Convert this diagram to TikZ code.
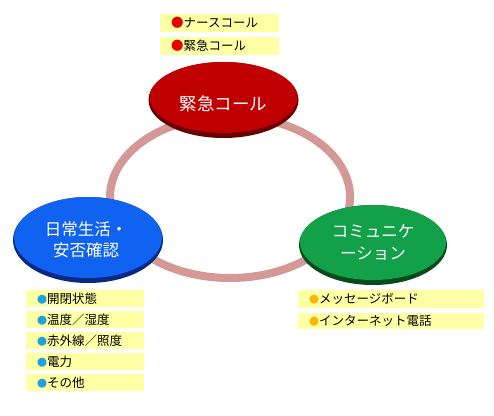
\documentclass[tikz,border=0pt]{standalone}
\usepackage{fontspec}
\newfontfamily\cjk{Noto Sans CJK JP}
\usetikzlibrary{shapes.geometric}
\definecolor{boxyellow}{RGB}{255,255,165}
\definecolor{ringpink}{RGB}{212,152,150}
\definecolor{redbase}{RGB}{192,0,0}
\definecolor{reddark}{RGB}{105,0,0}
\definecolor{bluebase}{RGB}{16,98,240}
\definecolor{bluedark}{RGB}{8,40,130}
\definecolor{greenbase}{RGB}{18,160,72}
\definecolor{greendark}{RGB}{5,75,30}
\definecolor{bulred}{RGB}{230,0,0}
\definecolor{bulblue}{RGB}{30,160,225}
\definecolor{bulgold}{RGB}{245,185,0}
\newcommand{\bul}[2]{{\fontsize{#2}{#2}\selectfont\color{#1}●}}
\begin{document}
\begin{tikzpicture}[x=1pt,y=-1pt,
  itembox/.style={fill=boxyellow, inner xsep=11pt, inner ysep=0pt,
    minimum height=18pt, anchor=north west, align=left,
    font=\cjk\fontsize{12.5}{15}\selectfont},
  hub/.style={ellipse, inner sep=0pt, text=white, align=center},
  ring/.style={draw=ringpink, line width=8pt}]
\useasboundingbox (0,0) rectangle (494,415);
\fill[white] (0,0) rectangle (494,415);

% ring
\draw[ring] (230,197) ellipse (120 and 81);

% red hub
\fill[reddark] (223.5,100) ellipse (75 and 38);
\node[hub, fill=redbase, minimum width=148pt, minimum height=71pt,
  label={[text=white, font=\cjk\fontsize{17.5}{20}\selectfont, yshift=-6pt]center:緊急コール}] (call) at (223.5,97.5) {};

% blue hub
\fill[bluedark] (88,240) ellipse (75 and 43);
\node[hub, fill=bluebase, minimum width=148pt, minimum height=81pt,
  label={[text=white, align=center, font=\cjk\fontsize{16.5}{21}\selectfont, yshift=-2.5pt, xshift=-2pt]center:日常生活・\\安否確認}] (life) at (88,237.5) {};

% green hub
\fill[greendark] (373,245) ellipse (74 and 40);
\node[hub, fill=greenbase, minimum width=146pt, minimum height=75pt,
  label={[text=white, align=center, font=\cjk\fontsize{16.5}{22}\selectfont]center:コミュニケ\\ーション}] (comm) at (373,242.5) {};

% top items
\node[itembox, text width=97pt] (top1) at (160,14) {\bul{bulred}{12.5}ナースコール};
\node[itembox, text width=97pt] (top2) at (160,37) {\bul{bulred}{12.5}緊急コール};

% left items
\node[itembox, text width=96pt, minimum height=17pt] (left1) at (26,290) {\bul{bulblue}{10}開閉状態};
\node[itembox, text width=96pt, minimum height=17pt] (left2) at (26,311) {\bul{bulblue}{10}温度／湿度};
\node[itembox, text width=96pt, minimum height=17pt] (left3) at (26,332) {\bul{bulblue}{10}赤外線／照度};
\node[itembox, text width=96pt, minimum height=17pt] (left4) at (26,353) {\bul{bulblue}{10}電力};
\node[itembox, text width=96pt, minimum height=17pt] (left5) at (26,374) {\bul{bulblue}{10}その他};

% right items
\node[itembox, text width=164pt] (right1) at (298,290) {\bul{bulgold}{10}メッセージボード};
\node[itembox, text width=164pt, minimum height=16pt] (right2) at (298,313) {\bul{bulgold}{10}インターネット電話};
\end{tikzpicture}
\end{document}
